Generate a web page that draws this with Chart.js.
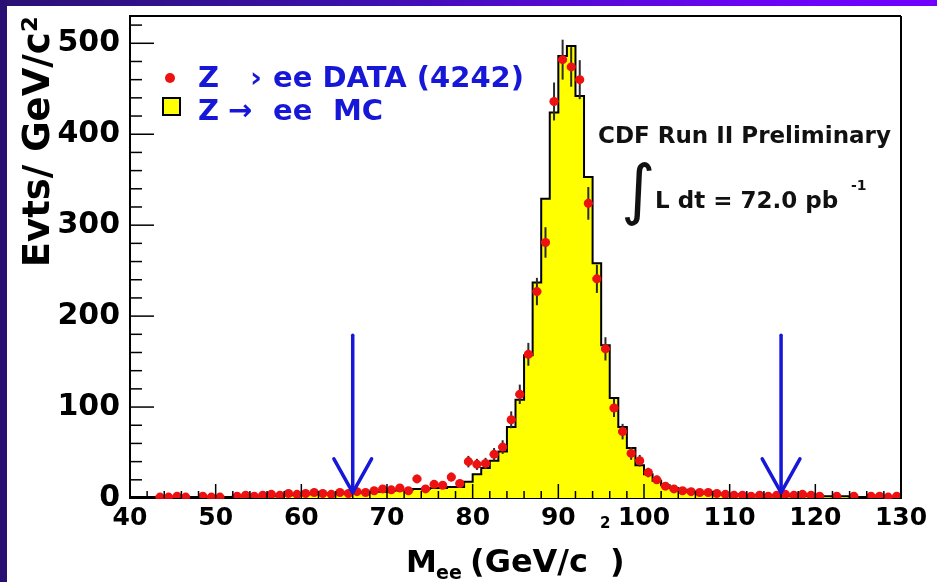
<!DOCTYPE html>
<html>
<head>
<meta charset="utf-8">
<script src="https://cdn.jsdelivr.net/npm/chart.js@4.4.1/dist/chart.umd.min.js"></script>
<style>
html, body { margin: 0; padding: 0; background: #fff; }
body { width: 937px; height: 582px; overflow: hidden; position: relative; }
#plot { position: absolute; left: 0; top: 0; }
.band-top { position: absolute; left: 0; top: 0; width: 937px; height: 6px;
  background: linear-gradient(to right, #2b1173, #3a10a8 35%, #6a04f4 80%, #7000ff); }
.band-left { position: absolute; left: 0; top: 0; width: 7px; height: 582px; background: #2a0f72; }
</style>
</head>
<body>
<canvas id="plot" width="937" height="582"></canvas>
<div class="band-top"></div>
<div class="band-left"></div>
<script>
// 1 GeV bins, centres from 40.5 to 129.5
var binCentres = [
  40.5, 41.5, 42.5, 43.5, 44.5, 45.5, 46.5, 47.5, 48.5, 49.5,
  50.5, 51.5, 52.5, 53.5, 54.5, 55.5, 56.5, 57.5, 58.5, 59.5,
  60.5, 61.5, 62.5, 63.5, 64.5, 65.5, 66.5, 67.5, 68.5, 69.5,
  70.5, 71.5, 72.5, 73.5, 74.5, 75.5, 76.5, 77.5, 78.5, 79.5,
  80.5, 81.5, 82.5, 83.5, 84.5, 85.5, 86.5, 87.5, 88.5, 89.5,
  90.5, 91.5, 92.5, 93.5, 94.5, 95.5, 96.5, 97.5, 98.5, 99.5,
  100.5, 101.5, 102.5, 103.5, 104.5, 105.5, 106.5, 107.5, 108.5, 109.5,
  110.5, 111.5, 112.5, 113.5, 114.5, 115.5, 116.5, 117.5, 118.5, 119.5,
  120.5, 121.5, 122.5, 123.5, 124.5, 125.5, 126.5, 127.5, 128.5, 129.5
];
var binWidth = 1;

// Z -> ee data, events per bin
var dataCounts = [
  0, 0, 0, 1, 1, 2, 1, 0, 2, 1,
  1, 0, 2, 3, 2, 3, 4, 3, 5, 4,
  5, 6, 5, 4, 6, 5, 7, 6, 8, 10,
  9, 11, 8, 21, 10, 15, 14, 23, 16, 40,
  37, 38, 48, 56, 86, 114, 158, 227, 281, 436,
  482, 474, 460, 324, 241, 164, 99, 73, 49, 41,
  28, 20, 13, 10, 8, 7, 6, 6, 5, 4,
  3, 3, 2, 3, 2, 3, 4, 3, 4, 3,
  2, 0, 2, 0, 2, 0, 2, 2, 1, 2
];

// Z -> ee Monte Carlo
var mcCounts = [
  1, 1, 1, 1, 1, 1, 1, 1, 1, 1,
  1, 1, 2, 2, 2, 2, 2, 3, 3, 3,
  4, 4, 5, 5, 5, 6, 6, 6, 7, 7,
  8, 9, 9, 10, 10, 11, 11, 12, 12, 18,
  26, 33, 41, 51, 78, 108, 157, 237, 329, 424,
  486, 497, 442, 353, 258, 168, 110, 78, 55, 36,
  26, 19, 14, 11, 9, 7, 6, 5, 5, 4,
  4, 3, 3, 3, 3, 3, 2, 2, 2, 2,
  2, 2, 2, 2, 1, 1, 1, 1, 1, 1
];

var xTicks = [40, 50, 60, 70, 80, 90, 100, 110, 120, 130];
var yTicks = [0, 100, 200, 300, 400, 500];

// mass window cuts, arrows drawn in data units
var massCuts = [66, 116];
var arrowTop = 179, arrowTip = 6, arrowWing = 43, arrowHalfWidth = 2.2;

var FONT = '"DejaVu Sans", sans-serif';
var BLUE = '#1717d8';
var RED = '#ee1111';

function line(ctx, x1, y1, x2, y2) {
  ctx.beginPath();
  ctx.moveTo(x1, y1);
  ctx.lineTo(x2, y2);
  ctx.stroke();
}

// MC histogram: points on the low edges, value held to the next edge, plus the closing edge
var mcPoints = binCentres.map(function (c, i) { return { x: c - binWidth / 2, y: mcCounts[i] }; });
mcPoints.push({ x: binCentres[binCentres.length - 1] + binWidth / 2, y: mcCounts[mcCounts.length - 1] });

var dataPoints = binCentres.map(function (c, i) { return { x: c, y: dataCounts[i] > 0 ? dataCounts[i] : null }; });

var errorBars = {
  id: 'errorBars',
  beforeDatasetDraw: function (chart, args) {
    if (args.index !== 1) return;
    var ctx = chart.ctx, x = chart.scales.x, y = chart.scales.y;
    ctx.save();
    for (var i = 0; i < binCentres.length; i++) {
      var n = dataCounts[i];
      if (!n) continue;
      var px = x.getPixelForValue(binCentres[i]);
      var py = y.getPixelForValue(n);
      var err = Math.sqrt(n);
      ctx.strokeStyle = '#2b2b2b';
      ctx.lineWidth = 2;
      line(ctx, px, y.getPixelForValue(n + err), px, y.getPixelForValue(Math.max(0, n - err)));
      ctx.strokeStyle = RED;
      ctx.lineWidth = 3.5;
      line(ctx, x.getPixelForValue(binCentres[i] - binWidth / 2), py, x.getPixelForValue(binCentres[i] + binWidth / 2), py);
    }
    ctx.restore();
  }
};

var axisDecor = {
  id: 'axisDecor',
  afterDatasetsDraw: function (chart) {
    var ctx = chart.ctx, a = chart.chartArea, x = chart.scales.x, y = chart.scales.y;
    ctx.save();
    ctx.strokeStyle = '#000';
    ctx.lineWidth = 1.5;
    // ticks point inward, ROOT style
    for (var v = 0; v <= y.max; v += 20) {
      var py = y.getPixelForValue(v);
      line(ctx, a.left, py, a.left + (v % 100 === 0 ? 24 : 12), py);
    }
    for (var m = x.min; m <= x.max; m += 2) {
      var px = x.getPixelForValue(m);
      line(ctx, px, a.bottom, px, a.bottom - (m % 10 === 0 ? 14 : 7));
    }
    ctx.lineWidth = 2;
    line(ctx, a.left, a.top, a.right, a.top);
    line(ctx, a.right, a.top, a.right, a.bottom);

    // cut arrows
    ctx.strokeStyle = BLUE;
    ctx.lineWidth = 3.5;
    ctx.lineCap = 'round';
    ctx.lineJoin = 'round';
    massCuts.forEach(function (cut) {
      var px = x.getPixelForValue(cut);
      var tip = y.getPixelForValue(arrowTip);
      var wing = y.getPixelForValue(arrowWing);
      line(ctx, px, y.getPixelForValue(arrowTop), px, tip);
      ctx.beginPath();
      ctx.moveTo(x.getPixelForValue(cut - arrowHalfWidth), wing);
      ctx.lineTo(px, tip);
      ctx.lineTo(x.getPixelForValue(cut + arrowHalfWidth), wing);
      ctx.stroke();
    });
    ctx.restore();
  }
};

var labels = {
  id: 'labels',
  afterDraw: function (chart) {
    var ctx = chart.ctx;
    var ds = chart.data.datasets;
    ctx.save();
    ctx.textBaseline = 'alphabetic';
    ctx.textAlign = 'left';

    // legend
    ctx.fillStyle = ds[1].backgroundColor;
    ctx.beginPath();
    ctx.arc(170, 78, 5, 0, Math.PI * 2);
    ctx.fill();
    ctx.fillStyle = ds[0].backgroundColor;
    ctx.fillRect(163, 98, 17, 17);
    ctx.strokeStyle = '#000';
    ctx.lineWidth = 2;
    ctx.strokeRect(163, 98, 17, 17);

    ctx.fillStyle = BLUE;
    ctx.font = 'bold 29px ' + FONT;
    ctx.fillText('Z', 198, 87);
    ctx.fillText('\u203A', 250, 87);
    ctx.fillText('ee DATA (4242)', 273, 87);
    ctx.fillText('Z', 198, 120);
    ctx.fillText('\u2192', 228, 120);
    ctx.fillText('ee', 273, 120);
    ctx.fillText('MC', 333, 120);

    // CDF label
    ctx.fillStyle = '#111';
    ctx.font = 'bold 23px ' + FONT;
    ctx.fillText('CDF Run II Preliminary', 598, 143);
    ctx.fillText('L dt = 72.0 pb', 655, 208);
    ctx.font = 'bold 14px ' + FONT;
    ctx.fillText('-1', 851, 190);
    ctx.font = '66px ' + FONT;
    ctx.fillText('\u222B', 621, 212);

    // x title
    ctx.fillStyle = '#000';
    ctx.font = 'bold 31px ' + FONT;
    ctx.fillText('M', 406, 572);
    ctx.font = 'bold 19px ' + FONT;
    ctx.fillText('ee', 436, 579);
    ctx.font = 'bold 32px ' + FONT;
    ctx.fillText('(GeV/c', 470, 572);
    ctx.fillText(')', 610, 572);
    ctx.font = 'bold 15px ' + FONT;
    ctx.fillText('2', 600, 528);
    ctx.restore();
  }
};

var ctx = document.getElementById('plot').getContext('2d');
var chart = new Chart(ctx, {
  type: 'line',
  data: {
    datasets: [{
      type: 'line',
      label: 'Z \u2192 ee MC',
      data: mcPoints,
      stepped: 'before',
      fill: 'origin',
      backgroundColor: '#ffff00',
      borderColor: '#000',
      borderWidth: 2,
      pointRadius: 0,
      order: 2
    }, {
      type: 'scatter',
      label: 'Z \u2192 ee DATA (4242)',
      data: dataPoints,
      backgroundColor: RED,
      borderWidth: 0,
      pointRadius: 4.5,
      order: 1
    }]
  },
  options: {
    responsive: false,
    animation: false,
    events: [],
    layout: { padding: { top: 16, right: 36, left: 0, bottom: 0 } },
    plugins: { legend: { display: false }, tooltip: { enabled: false } },
    scales: {
      x: {
        type: 'linear',
        min: 40,
        max: 130,
        afterBuildTicks: function (s) { s.ticks = xTicks.map(function (v) { return { value: v }; }); },
        afterFit: function (s) { s.height = 84; s.paddingLeft = 0; s.paddingRight = 0; },
        ticks: { color: '#000', padding: 5, maxRotation: 0, autoSkip: false, font: { family: FONT, size: 25, weight: 'bold' } },
        grid: { display: false, drawTicks: false },
        border: { display: true, color: '#000', width: 2 }
      },
      y: {
        min: 0,
        max: 530,
        afterBuildTicks: function (s) { s.ticks = yTicks.map(function (v) { return { value: v }; }); },
        afterFit: function (s) { s.width = 130; s.paddingTop = 0; s.paddingBottom = 0; },
        ticks: { color: '#000', padding: 10, font: { family: FONT, size: 30, weight: 'bold' } },
        grid: { display: false, drawTicks: false },
        border: { display: true, color: '#000', width: 2 },
        title: {
          display: true,
          text: 'Evts/ GeV/c\u00B2',
          align: 'end',
          color: '#000',
          padding: { top: 17, bottom: 0 },
          font: { family: FONT, size: 37, weight: 'bold' }
        }
      }
    }
  },
  plugins: [errorBars, axisDecor, labels]
});
</script>
</body>
</html>
